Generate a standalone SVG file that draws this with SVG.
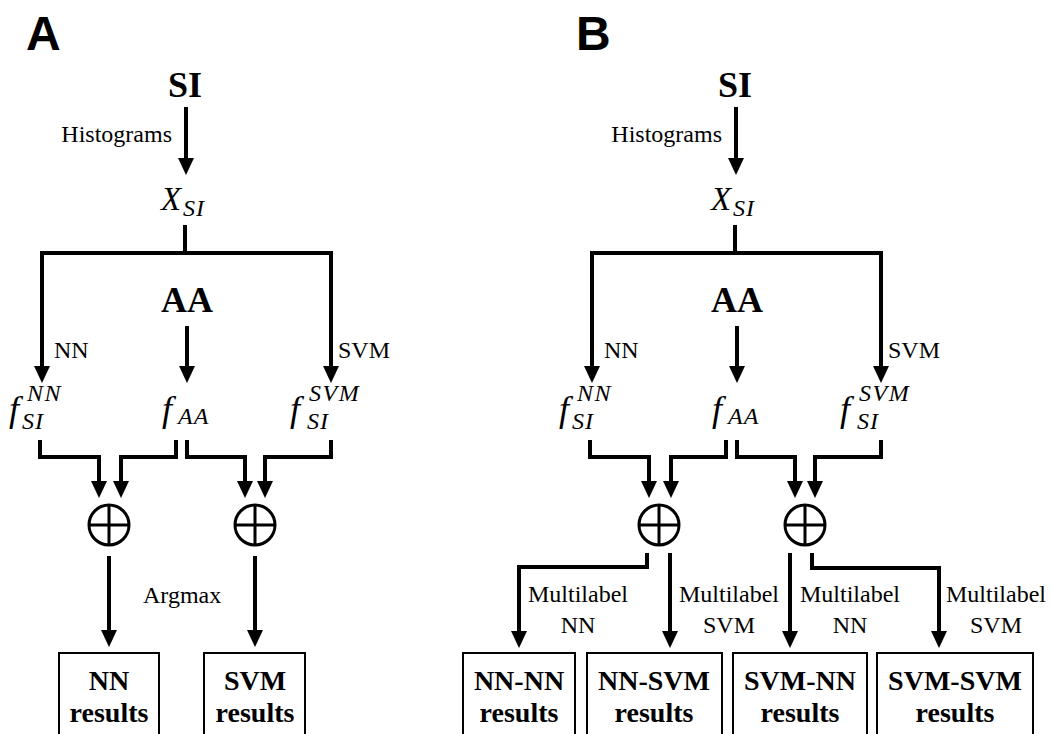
<svg xmlns="http://www.w3.org/2000/svg" width="1052" height="734" viewBox="0 0 1052 734">
<style>
.ln{fill:none;stroke:#000;stroke-width:4;stroke-linejoin:miter;stroke-linecap:butt}
.ar{fill:none;stroke:#000;stroke-width:4;marker-end:url(#ah)}
.bx{fill:#fff;stroke:#000;stroke-width:2}
.pl{font-family:"Liberation Sans",Arial,sans-serif;font-weight:bold;font-size:48px}
.bt{font-family:"Liberation Serif","Times New Roman",serif;font-weight:bold;font-size:36px;text-anchor:middle}
.rt{font-family:"Liberation Serif","Times New Roman",serif;font-weight:bold;font-size:28px;text-anchor:middle}
.lb{font-family:"Liberation Serif","Times New Roman",serif;font-size:24px}
.mi{font-family:"Liberation Serif","Times New Roman",serif;font-style:italic}
.fb{font-size:36px}
.sb{font-size:24px;letter-spacing:1px}
.sp{font-size:24px;letter-spacing:1.5px}
.op{fill:none;stroke:#000;stroke-width:3}
</style>
<defs>
<marker id="ah" markerUnits="userSpaceOnUse" viewBox="0 0 17 16" markerWidth="17" markerHeight="16" refX="1" refY="8" orient="auto">
<path d="M0,0 L17,8 L0,16 z" fill="#000"/>
</marker>
</defs>

<!-- Panel A -->
<g id="panelA">
<text class="pl" x="26" y="50">A</text>
<g id="A-SI"><text class="bt" x="185" y="97">SI</text></g>
<g id="A-XSI"><text class="mi" x="161" y="210" font-size="33">X</text><text class="mi sb" x="183" y="216" font-size="22">SI</text></g>
<g id="A-AA"><text class="bt" x="187" y="312">AA</text></g>
<g id="A-fNN"><text class="mi fb" x="9" y="421">f</text><text class="mi sb" x="22" y="429">SI</text><text class="mi sp" x="27" y="401">NN</text></g>
<g id="A-fAA"><text class="mi fb" x="162" y="421">f</text><text class="mi sb" x="178" y="424">AA</text></g>
<g id="A-fSVM"><text class="mi fb" x="290" y="421">f</text><text class="mi sb" x="307" y="429">SI</text><text class="mi sp" x="309" y="401">SVM</text></g>
<g id="A-op1"><circle class="op" cx="109" cy="525" r="20"/><path class="op" d="M109,505 V545 M89,525 H129"/></g>
<g id="A-op2"><circle class="op" cx="255" cy="525" r="20"/><path class="op" d="M255,505 V545 M235,525 H275"/></g>
<g id="A-NNres"><rect class="bx" x="59" y="653" width="100" height="100"/><text class="rt" x="109" y="690">NN</text><text class="rt" x="109" y="722">results</text></g>
<g id="A-SVMres"><rect class="bx" x="204" y="653" width="101" height="100"/><text class="rt" x="255" y="690">SVM</text><text class="rt" x="255" y="722">results</text></g>
</g>

<!-- Panel B -->
<g id="panelB">
<text class="pl" x="576" y="50">B</text>
<g id="B-SI"><text class="bt" x="735" y="97">SI</text></g>
<g id="B-XSI"><text class="mi" x="711" y="210" font-size="33">X</text><text class="mi sb" x="733" y="216" font-size="22">SI</text></g>
<g id="B-AA"><text class="bt" x="737" y="312">AA</text></g>
<g id="B-fNN"><text class="mi fb" x="559" y="421">f</text><text class="mi sb" x="572" y="429">SI</text><text class="mi sp" x="577" y="401">NN</text></g>
<g id="B-fAA"><text class="mi fb" x="712" y="421">f</text><text class="mi sb" x="728" y="424">AA</text></g>
<g id="B-fSVM"><text class="mi fb" x="840" y="421">f</text><text class="mi sb" x="857" y="429">SI</text><text class="mi sp" x="859" y="401">SVM</text></g>
<g id="B-op1"><circle class="op" cx="659" cy="525" r="20"/><path class="op" d="M659,505 V545 M639,525 H679"/></g>
<g id="B-op2"><circle class="op" cx="805" cy="525" r="20"/><path class="op" d="M805,505 V545 M785,525 H825"/></g>
<g id="B-NNNN"><rect class="bx" x="463" y="653" width="112" height="100"/><text class="rt" x="519" y="690">NN-NN</text><text class="rt" x="519" y="722">results</text></g>
<g id="B-NNSVM"><rect class="bx" x="587" y="653" width="135" height="100"/><text class="rt" x="654" y="690">NN-SVM</text><text class="rt" x="654" y="722">results</text></g>
<g id="B-SVMNN"><rect class="bx" x="733" y="653" width="134" height="100"/><text class="rt" x="800" y="690">SVM-NN</text><text class="rt" x="800" y="722">results</text></g>
<g id="B-SVMSVM"><rect class="bx" x="877" y="653" width="156" height="100"/><text class="rt" x="955" y="690">SVM-SVM</text><text class="rt" x="955" y="722">results</text></g>
</g>

<!-- Connectors -->
<g id="connectors">
<!-- A -->
<path class="ar" d="M186,107 V159"/>
<path class="ln" d="M185,225 V253"/>
<path class="ar" d="M42,367 V253 H331 V367"/>
<path class="ar" d="M42,253 V367"/>
<path class="ar" d="M187,326 V367"/>
<path class="ar" d="M40,440 V457 H99 V482"/>
<path class="ar" d="M176,440 V457 H121 V482"/>
<path class="ar" d="M187,440 V457 H245 V482"/>
<path class="ar" d="M331,440 V457 H265 V482"/>
<path class="ar" d="M109,556 V631"/>
<path class="ar" d="M255,556 V631"/>
<!-- B -->
<path class="ar" d="M736,107 V159"/>
<path class="ln" d="M735,225 V253"/>
<path class="ar" d="M592,367 V253 H881 V367"/>
<path class="ar" d="M592,253 V367"/>
<path class="ar" d="M737,326 V367"/>
<path class="ar" d="M590,440 V457 H649 V482"/>
<path class="ar" d="M726,440 V457 H671 V482"/>
<path class="ar" d="M737,440 V457 H795 V482"/>
<path class="ar" d="M881,440 V457 H815 V482"/>
<path class="ar" d="M647,553 V567 H519 V632"/>
<path class="ar" d="M670,553 V632"/>
<path class="ar" d="M790,553 V632"/>
<path class="ar" d="M812,553 V568 H939 V632"/>
</g>

<!-- Edge labels -->
<g id="labels">
<text class="lb" x="172" y="142" text-anchor="end">Histograms</text>
<text class="lb" x="54" y="358">NN</text>
<text class="lb" x="338" y="358">SVM</text>
<text class="lb" x="143" y="603">Argmax</text>
<text class="lb" x="722" y="142" text-anchor="end">Histograms</text>
<text class="lb" x="604" y="358">NN</text>
<text class="lb" x="888" y="358">SVM</text>
<text class="lb" x="578" y="602" text-anchor="middle">Multilabel</text>
<text class="lb" x="578" y="633" text-anchor="middle">NN</text>
<text class="lb" x="729" y="602" text-anchor="middle">Multilabel</text>
<text class="lb" x="729" y="633" text-anchor="middle">SVM</text>
<text class="lb" x="850" y="602" text-anchor="middle">Multilabel</text>
<text class="lb" x="850" y="633" text-anchor="middle">NN</text>
<text class="lb" x="996" y="602" text-anchor="middle">Multilabel</text>
<text class="lb" x="996" y="633" text-anchor="middle">SVM</text>
</g>
</svg>
